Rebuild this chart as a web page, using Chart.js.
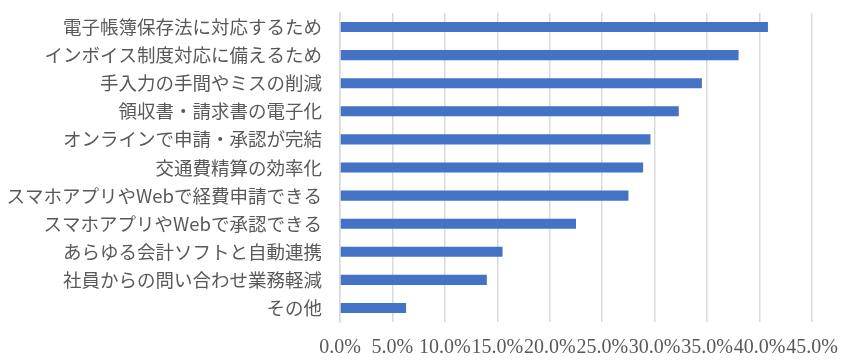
<!DOCTYPE html>
<html><head><meta charset="utf-8">
<script src="https://cdn.jsdelivr.net/npm/chart.js@4/dist/chart.umd.min.js"></script>
<style>html,body{margin:0;padding:0;background:#fff}#w{width:857px;height:364px}</style>
</head><body><div id="w"><canvas id="c"></canvas></div>
<script>
const categories = ["電子帳簿保存法に対応するため","インボイス制度対応に備えるため","手入力の手間やミスの削減","領収書・請求書の電子化","オンラインで申請・承認が完結","交通費精算の効率化","スマホアプリやWebで経費申請できる","スマホアプリやWebで承認できる","あらゆる会計ソフトと自動連携","社員からの問い合わせ業務軽減","その他"];
const values = [40.8, 38.0, 34.5, 32.3, 29.6, 28.9, 27.5, 22.5, 15.5, 14.0, 6.3];
const xTicks = [0,5,10,15,20,25,30,35,40,45];

new Chart(document.getElementById('c'), {
  type: 'bar',
  data: { labels: categories, datasets: [{ data: values, backgroundColor: '#4472c4', barPercentage: 0.36, categoryPercentage: 1.0 }] },
  options: {
    indexAxis: 'y', responsive: true, maintainAspectRatio: false, animation: false,
    layout: { padding: { top: 13, right: 45, bottom: 0, left: 0 } },
    plugins: { legend: { display: false }, tooltip: { enabled: false } },
    scales: {
      x: {
        min: 0, max: 45,
        afterBuildTicks: s => { s.ticks = xTicks.map(v => ({ value: v })); },
        afterFit: s => { s.height = 42; },
        ticks: { autoSkip: false, maxRotation: 0, minRotation: 0, padding: 14, color: '#595959',
          font: { family: 'Liberation Serif', size: 20 }, callback: v => Number(v).toFixed(1) + '%' },
        grid: { color: '#d9d9d9', lineWidth: 1.5, drawTicks: false },
        border: { display: false }
      },
      y: {
        afterFit: s => { s.width = 340; s.paddingTop = 0; s.paddingBottom = 0; },
        ticks: { padding: 18, color: '#595959', font: { family: 'Noto Sans CJK JP', size: 18.5 } },
        grid: { display: false, drawTicks: false },
        border: { display: true, color: '#d9d9d9', width: 1.5 }
      }
    }
  }
});
</script></body></html>
